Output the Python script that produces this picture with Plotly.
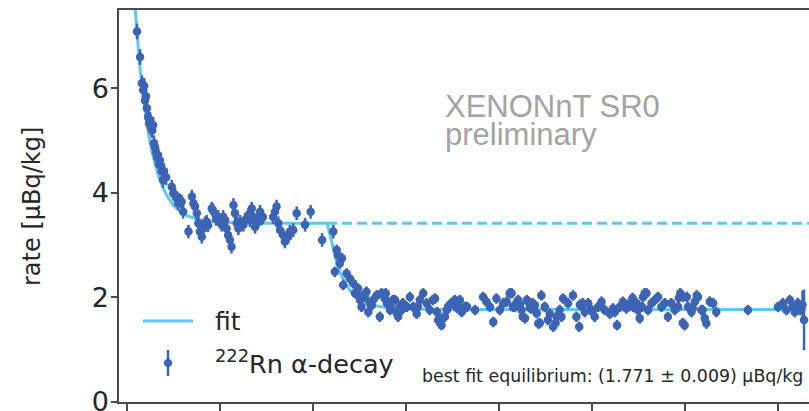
import plotly.graph_objects as go

# ---- 222Rn alpha-decay rate, filling period (days since start, µBq/kg) ----
fill_days = [
    3.2, 4.2, 4.8, 5.2, 5.5, 5.8, 6.1, 6.4, 6.8, 7.1,
    7.4, 7.7, 8.1, 8.4, 8.7, 9.0, 9.3, 9.7, 10.0, 10.3,
    10.6, 11.2, 11.6, 11.9, 12.6, 14.4, 14.9, 15.5, 16.0, 16.5,
    17.1, 17.6, 18.1, 19.8, 20.9, 21.4, 21.9, 22.5, 23.0, 23.5,
    24.1, 24.6, 25.1, 25.7, 26.1, 27.3, 27.7, 28.7, 29.4, 30.0,
    30.5, 31.0, 31.6, 32.1, 32.6, 33.2, 33.7, 34.3, 34.8, 35.4,
    35.9, 36.4, 37.5, 38.0, 39.1, 39.6, 40.2, 40.7, 41.3, 41.8,
    42.3, 42.9, 43.4, 43.8, 47.1, 47.7, 48.2, 48.8, 49.3, 50.4,
    50.9, 52.0, 52.5, 53.6, 54.7, 57.4, 59.2, 62.9, 66.5,
]
fill_rate = [
    7.09, 6.60, 6.10, 5.97, 6.05, 5.77, 5.85, 5.62, 5.45, 5.33,
    5.40, 5.25, 5.20, 5.30, 4.95, 4.88, 4.78, 4.68, 4.72, 4.55,
    4.62, 4.41, 4.25, 4.42, 4.30, 4.12, 3.99, 3.96, 3.90, 3.80,
    3.86, 3.83, 3.64, 3.26, 3.93, 3.80, 3.74, 3.61, 3.42, 3.26,
    3.16, 3.32, 3.42, 3.45, 3.38, 3.70, 3.67, 3.50, 3.54, 3.45,
    3.39, 3.54, 3.48, 3.32, 3.19, 3.10, 2.97, 3.77, 3.61, 3.42,
    3.32, 3.45, 3.39, 3.48, 3.58, 3.48, 3.70, 3.54, 3.35, 3.42,
    3.54, 3.64, 3.51, 3.54, 3.54, 3.64, 3.74, 3.42, 3.29, 3.19,
    3.07, 3.16, 3.26, 3.29, 3.61, 3.39, 3.64, 3.10, 3.26,
]
fill_err = [
    0.15, 0.15, 0.15, 0.15, 0.15, 0.15, 0.15, 0.15, 0.15, 0.15,
    0.15, 0.15, 0.15, 0.15, 0.15, 0.15, 0.15, 0.15, 0.15, 0.15,
    0.15, 0.15, 0.15, 0.15, 0.15, 0.13, 0.13, 0.13, 0.13, 0.13,
    0.13, 0.13, 0.13, 0.13, 0.13, 0.13, 0.13, 0.13, 0.13, 0.13,
    0.13, 0.13, 0.13, 0.13, 0.13, 0.13, 0.13, 0.13, 0.13, 0.13,
    0.13, 0.13, 0.13, 0.13, 0.13, 0.13, 0.13, 0.13, 0.13, 0.13,
    0.13, 0.13, 0.13, 0.13, 0.13, 0.13, 0.13, 0.13, 0.13, 0.13,
    0.13, 0.13, 0.13, 0.13, 0.13, 0.13, 0.13, 0.13, 0.13, 0.13,
    0.13, 0.13, 0.13, 0.13, 0.13, 0.13, 0.13, 0.13, 0.13,
]

# ---- 222Rn alpha-decay rate, with radon distillation running ----
distill_days = [
    67.0, 67.6, 68.0, 68.6, 69.3, 69.7, 70.8, 71.9, 72.9, 73.5,
    74.1, 74.5, 75.1, 75.6, 76.2, 76.7, 77.2, 77.8, 78.3, 78.9,
    79.3, 80.5, 81.5, 82.1, 83.1, 83.4, 83.8, 84.2, 84.8, 85.3,
    85.7, 86.4, 87.0, 87.4, 88.0, 88.5, 88.9, 89.6, 90.2, 91.2,
    92.3, 93.4, 93.8, 94.4, 95.5, 96.6, 97.6, 98.6, 99.3, 99.9,
    100.3, 100.9, 101.4, 101.8, 102.5, 103.1, 103.5, 104.1, 104.6, 105.1,
    105.7, 106.4, 106.8, 107.3, 107.9, 108.3, 108.9, 109.6, 112.2, 114.8,
    115.9, 117.0, 118.1, 119.1, 120.2, 121.3, 122.4, 123.4, 124.0, 124.4,
    125.0, 125.7, 126.1, 126.7, 127.2, 127.6, 128.3, 128.9, 129.3, 129.9,
    130.4, 130.8, 131.5, 132.1, 132.6, 133.1, 133.6, 134.7, 135.7, 136.3,
    137.4, 138.2, 138.5, 139.5, 140.1, 140.6, 142.2, 143.8, 144.9, 145.8,
    146.0, 146.5, 146.9, 147.6, 148.7, 149.8, 150.1, 150.8, 151.9, 153.0,
    154.0, 155.7, 156.7, 157.3, 158.0, 158.9, 159.9, 161.0, 162.1, 163.0,
    163.2, 164.3, 164.7, 165.3, 166.0, 166.4, 166.9, 167.5, 168.0, 169.1,
    170.2, 171.2, 172.3, 173.4, 174.4, 175.5, 176.6, 177.7, 177.9, 178.4,
    179.2, 179.3, 179.8, 180.5, 180.9, 182.0, 182.4, 183.1, 183.7, 184.1,
    185.2, 185.6, 186.3, 186.8, 187.9, 189.0, 190.0, 200.2, 209.9, 211.5,
    212.6, 213.7, 214.7, 215.3, 216.3, 216.9, 217.8, 218.3,
]
distill_rate = [
    2.49, 2.91, 2.81, 2.65, 2.75, 2.24, 2.46, 2.36, 2.27, 2.08,
    2.08, 2.17, 1.95, 1.82, 2.04, 2.01, 2.11, 1.72, 1.89, 1.85,
    1.95, 2.04, 1.63, 2.08, 1.98, 2.08, 1.89, 1.89, 1.76, 1.79,
    1.95, 1.95, 1.70, 1.63, 1.82, 1.76, 1.89, 1.82, 1.82, 2.01,
    1.82, 1.69, 1.82, 1.95, 2.08, 1.89, 1.76, 1.95, 1.98, 1.72,
    1.57, 1.51, 1.47, 1.61, 1.63, 1.76, 1.82, 1.86, 1.89, 1.91,
    1.95, 1.80, 1.82, 1.95, 1.72, 1.76, 1.82, 1.82, 1.76, 2.01,
    1.92, 1.82, 1.53, 1.98, 1.76, 1.89, 1.92, 2.08, 2.08, 1.82,
    1.82, 1.91, 1.95, 1.86, 1.76, 1.63, 1.60, 1.95, 1.92, 1.80,
    1.79, 1.89, 1.85, 1.70, 1.50, 1.51, 2.04, 1.82, 1.57, 1.69,
    1.44, 1.51, 1.63, 1.76, 1.63, 1.98, 1.89, 2.04, 1.63, 1.44,
    1.86, 1.85, 1.89, 1.72, 1.89, 1.76, 1.72, 1.63, 1.82, 1.92,
    1.76, 1.69, 1.79, 1.72, 1.47, 1.82, 1.92, 1.79, 1.89, 1.99,
    1.82, 1.89, 1.76, 1.60, 1.82, 2.01, 2.08, 2.08, 1.76, 1.89,
    1.95, 2.01, 1.82, 1.89, 1.63, 1.89, 1.76, 1.82, 1.99, 2.08,
    1.51, 2.01, 1.47, 2.01, 1.82, 1.72, 1.80, 1.92, 2.04, 2.01,
    1.76, 1.76, 1.60, 1.50, 1.92, 1.89, 1.72, 1.76, 1.82, 1.89,
    1.76, 1.95, 1.82, 1.72, 1.89, 1.76, 1.86, 1.57,
]
distill_err = [
    0.10, 0.10, 0.10, 0.10, 0.10, 0.10, 0.10, 0.10, 0.10, 0.10,
    0.10, 0.10, 0.10, 0.10, 0.10, 0.10, 0.10, 0.10, 0.10, 0.10,
    0.10, 0.10, 0.10, 0.10, 0.10, 0.10, 0.10, 0.10, 0.10, 0.10,
    0.10, 0.10, 0.10, 0.10, 0.10, 0.10, 0.10, 0.10, 0.10, 0.10,
    0.10, 0.10, 0.10, 0.10, 0.10, 0.10, 0.10, 0.10, 0.10, 0.10,
    0.10, 0.10, 0.10, 0.10, 0.10, 0.10, 0.10, 0.10, 0.10, 0.10,
    0.10, 0.10, 0.10, 0.10, 0.10, 0.10, 0.10, 0.10, 0.10, 0.10,
    0.10, 0.10, 0.10, 0.10, 0.10, 0.10, 0.10, 0.10, 0.10, 0.10,
    0.10, 0.10, 0.10, 0.10, 0.10, 0.10, 0.10, 0.10, 0.10, 0.10,
    0.10, 0.10, 0.10, 0.10, 0.10, 0.10, 0.10, 0.10, 0.10, 0.10,
    0.10, 0.10, 0.10, 0.10, 0.10, 0.10, 0.10, 0.10, 0.10, 0.10,
    0.10, 0.10, 0.10, 0.10, 0.10, 0.10, 0.10, 0.10, 0.10, 0.10,
    0.10, 0.10, 0.10, 0.10, 0.10, 0.10, 0.10, 0.10, 0.10, 0.10,
    0.10, 0.10, 0.10, 0.10, 0.10, 0.10, 0.10, 0.10, 0.10, 0.10,
    0.10, 0.10, 0.10, 0.10, 0.10, 0.10, 0.10, 0.10, 0.10, 0.10,
    0.10, 0.10, 0.10, 0.10, 0.10, 0.10, 0.10, 0.10, 0.10, 0.10,
    0.10, 0.10, 0.10, 0.10, 0.10, 0.10, 0.10, 0.10, 0.10, 0.10,
    0.10, 0.10, 0.10, 0.10, 0.10, 0.10, 0.27, 0.58,
]

# ---- fit result ----
EQUILIBRIUM = 1.771
EQUILIBRIUM_ERR = 0.009
fit_days = [
    2.0, 3.0, 4.0, 5.0, 6.0, 7.0, 8.0, 9.0, 10.0, 11.5,
    13.0, 15.0, 17.0, 19.5, 22.5, 26.0, 30.0, 35.0, 40.0, 64.5,
    67.4, 68.0, 69.0, 70.0, 71.0, 72.0, 74.0, 76.0, 78.0, 81.0,
    85.0, 90.0, 96.0, 105.0, 219.0,
]
fit_rate = [
    8.00, 7.17, 6.49, 5.93, 5.48, 5.11, 4.80, 4.55, 4.35, 4.11,
    3.93, 3.76, 3.65, 3.56, 3.50, 3.46, 3.44, 3.43, 3.42, 3.42,
    2.68, 2.58, 2.43, 2.31, 2.21, 2.13, 2.01, 1.93, 1.88, 1.83,
    1.80, 1.78, 1.774, EQUILIBRIUM, EQUILIBRIUM,
]
# plateau the rate would have kept without distillation
nodist_days = [64.5, 222.0]
nodist_rate = [3.42, 3.42]

tick_days = [0, 30, 60, 90, 120, 150, 180, 210]
tick_rates = [0, 2, 4, 6]

assert len(fill_days) == len(fill_rate) == len(fill_err)
assert len(distill_days) == len(distill_rate) == len(distill_err)
assert len(fit_days) == len(fit_rate)

DATA_BLUE = "#3c64b4"
FIT_BLUE = "#5ec8f2"
AXIS_GREY = "#4a4a4a"
TEXT_DARK = "#262626"
FONT = "DejaVu Sans"

W, H = 809, 411
ML, MR, MT, MB = 119, 0, 10, 9
PW, PH = W - ML - MR, H - MT - MB


def px(x):
    return (x - ML) / PW


def py(y):
    return (H - MB - y) / PH


fig = go.Figure()

fig.add_trace(go.Scatter(
    x=nodist_days, y=nodist_rate, mode="lines",
    line=dict(color=FIT_BLUE, width=3, dash="10px,5px"),
    showlegend=False, hoverinfo="skip",
))
fig.add_trace(go.Scatter(
    x=fit_days, y=fit_rate, mode="lines",
    line=dict(color=FIT_BLUE, width=3),
    name="fit", showlegend=False,
))
fig.add_trace(go.Scatter(
    x=fill_days + distill_days, y=fill_rate + distill_rate,
    mode="markers",
    marker=dict(color=DATA_BLUE, size=8.5, line=dict(width=0)),
    error_y=dict(type="data", array=fill_err + distill_err,
                 color=DATA_BLUE, thickness=2.5, width=0),
    name="222Rn α-decay", showlegend=False,
))

# legend drawn by hand, matplotlib style
shapes = [
    dict(type="line", xref="paper", yref="paper",
         x0=px(143), x1=px(193), y0=py(321), y1=py(321),
         line=dict(color=FIT_BLUE, width=3)),
    dict(type="line", xref="paper", yref="paper",
         x0=px(168), x1=px(168), y0=py(350), y1=py(376),
         line=dict(color=DATA_BLUE, width=2.5)),
    dict(type="circle", xref="paper", yref="paper",
         x0=px(164), x1=px(172), y0=py(367), y1=py(359),
         fillcolor=DATA_BLUE, line=dict(width=0)),
]

annotations = [
    dict(text="fit", xref="paper", yref="paper", x=px(213), y=py(321),
         xanchor="left", yanchor="middle", showarrow=False,
         font=dict(family=FONT, size=25, color=TEXT_DARK)),
    dict(text="<sup>222</sup>Rn α-decay", xref="paper", yref="paper",
         x=px(213), y=py(362), xanchor="left", yanchor="middle",
         showarrow=False, font=dict(family=FONT, size=25.5, color=TEXT_DARK)),
    dict(text=f"best fit equilibrium: ({EQUILIBRIUM:.3f} ± {EQUILIBRIUM_ERR:.3f}) µBq/kg",
         xref="paper", yref="paper", x=px(805), y=py(376),
         xanchor="right", yanchor="middle", showarrow=False,
         font=dict(family=FONT, size=17.4, color=TEXT_DARK)),
    dict(text="XENONnT SR0", xref="paper", yref="paper", x=px(443), y=py(106),
         xanchor="left", yanchor="middle", showarrow=False,
         font=dict(family="Liberation Sans", size=31, color="#a3a3a3")),
    dict(text="preliminary", xref="paper", yref="paper", x=px(443), y=py(134),
         xanchor="left", yanchor="middle", showarrow=False,
         font=dict(family="Liberation Sans", size=31, color="#a3a3a3")),
    dict(text="rate [µBq/kg]", xref="paper", yref="paper", x=px(32), y=py(207),
         xanchor="center", yanchor="middle", textangle=-90, showarrow=False,
         font=dict(family=FONT, size=24, color=TEXT_DARK)),
]

fig.update_layout(
    width=W, height=H,
    margin=dict(l=ML, r=MR, t=MT, b=MB),
    paper_bgcolor="white", plot_bgcolor="white",
    showlegend=False,
    shapes=shapes, annotations=annotations,
    font=dict(family=FONT, color=TEXT_DARK),
)
fig.update_xaxes(
    range=[-2.6, 219.9], tickvals=tick_days, showticklabels=False,
    ticks="outside", ticklen=7, tickwidth=1.5, tickcolor=AXIS_GREY,
    showline=True, linecolor=AXIS_GREY, linewidth=1.5, mirror=True,
    showgrid=False, zeroline=False, automargin=False,
)
fig.update_yaxes(
    range=[0, 7.5], tickvals=tick_rates,
    ticks="outside", ticklen=6, tickwidth=1.5, tickcolor=AXIS_GREY,
    tickfont=dict(family=FONT, size=27, color=TEXT_DARK),
    ticklabelstandoff=-3, ticklabeloverflow="allow",
    showline=True, linecolor=AXIS_GREY, linewidth=1.5,
    showgrid=False, zeroline=False, automargin=False,
)

fig.write_html("out.html")
